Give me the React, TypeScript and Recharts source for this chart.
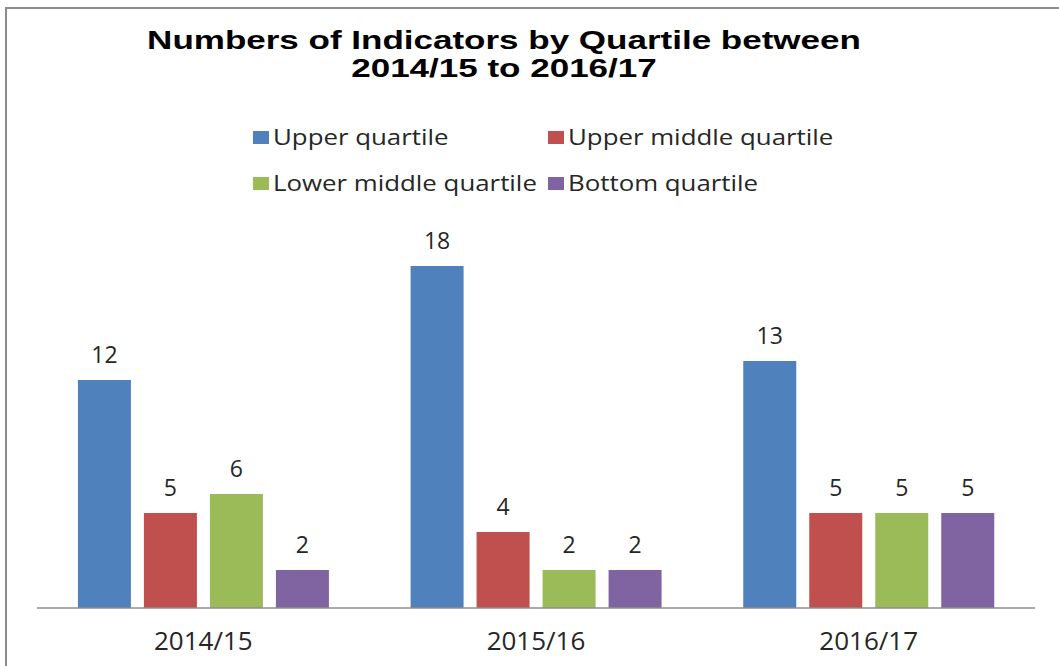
import React from 'react'
import { BarChart, Bar, XAxis, YAxis, LabelList } from 'recharts'

const years = ['2014/15', '2015/16', '2016/17']
const upperQuartile = [12, 18, 13]
const upperMiddleQuartile = [5, 4, 5]
const lowerMiddleQuartile = [6, 2, 5]
const bottomQuartile = [2, 2, 5]

const SERIES = [
  { key: 'upper', name: 'Upper quartile', color: '#4F81BD', values: upperQuartile },
  { key: 'upperMiddle', name: 'Upper middle quartile', color: '#C0504D', values: upperMiddleQuartile },
  { key: 'lowerMiddle', name: 'Lower middle quartile', color: '#9BBB59', values: lowerMiddleQuartile },
  { key: 'bottom', name: 'Bottom quartile', color: '#8064A2', values: bottomQuartile }
]

const data = years.map((year, i) => {
  const row: any = { year }
  SERIES.forEach((s) => {
    row[s.key] = s.values[i]
  })
  return row
})

const FONT = '"Open Sans", sans-serif'
const TEXT = '#262626'

// legend item placement (2 x 2 grid like the original)
const legendCols = [253, 548]
const legendRows = [137, 183]

const App: React.FC = () => {
  return (
    <div style={{ position: 'absolute', left: 0, top: 0, width: 1059, height: 666, overflow: 'hidden', background: '#fff' }}>
      <div
        style={{
          position: 'absolute',
          left: 5,
          top: 7,
          width: 1100,
          height: 700,
          border: '2px solid #8c8c8c'
        }}
      />
      {['Numbers of Indicators by Quartile between', '2014/15 to 2016/17'].map((line, i) => (
        <div
          key={line}
          style={{
            position: 'absolute',
            left: 0,
            width: 1008,
            top: 25 + i * 28,
            lineHeight: '30px',
            textAlign: 'center',
            fontFamily: '"Liberation Sans", Arial, sans-serif',
            fontWeight: 'bold',
            fontSize: 25,
            color: '#000',
            transform: 'scaleX(1.4)',
            transformOrigin: '504px 50%',
            whiteSpace: 'nowrap'
          }}
        >
          {line}
        </div>
      ))}
      {SERIES.map((s, i) => (
        <div
          key={s.key}
          style={{
            position: 'absolute',
            left: legendCols[i % 2],
            top: legendRows[Math.floor(i / 2)] - 15,
            height: 30,
            display: 'flex',
            alignItems: 'center',
            fontFamily: FONT,
            fontSize: 21,
            color: TEXT,
            whiteSpace: 'nowrap'
          }}
        >
          <span style={{ display: 'inline-block', width: 16, height: 13, background: s.color, marginRight: 4 }} />
          <span style={{ display: 'inline-block', transform: 'scaleX(1.23)', transformOrigin: '0 50%' }}>{s.name}</span>
        </div>
      ))}
      <BarChart
        width={1059}
        height={666}
        data={data}
        margin={{ top: 228, right: 24, bottom: 8, left: 37 }}
        barCategoryGap="12.3%"
        barGap={13}
        style={{ position: 'absolute', left: 0, top: 0 }}
      >
        <XAxis
          dataKey="year"
          height={50}
          tickLine={false}
          tickSize={0}
          tickMargin={24}
          axisLine={{ stroke: '#8e8e8e', strokeWidth: 1.5 }}
          tick={{ fontSize: 26, fill: TEXT, fontFamily: FONT }}
        />
        <YAxis hide domain={[0, 20]} />
        {SERIES.map((s) => (
          <Bar key={s.key} dataKey={s.key} name={s.name} fill={s.color} isAnimationActive={false}>
            <LabelList
              dataKey={s.key}
              position="top"
              offset={17}
              style={{ fontSize: 23, fill: TEXT, fontFamily: FONT }}
            />
          </Bar>
        ))}
      </BarChart>
    </div>
  )
}

export default App
